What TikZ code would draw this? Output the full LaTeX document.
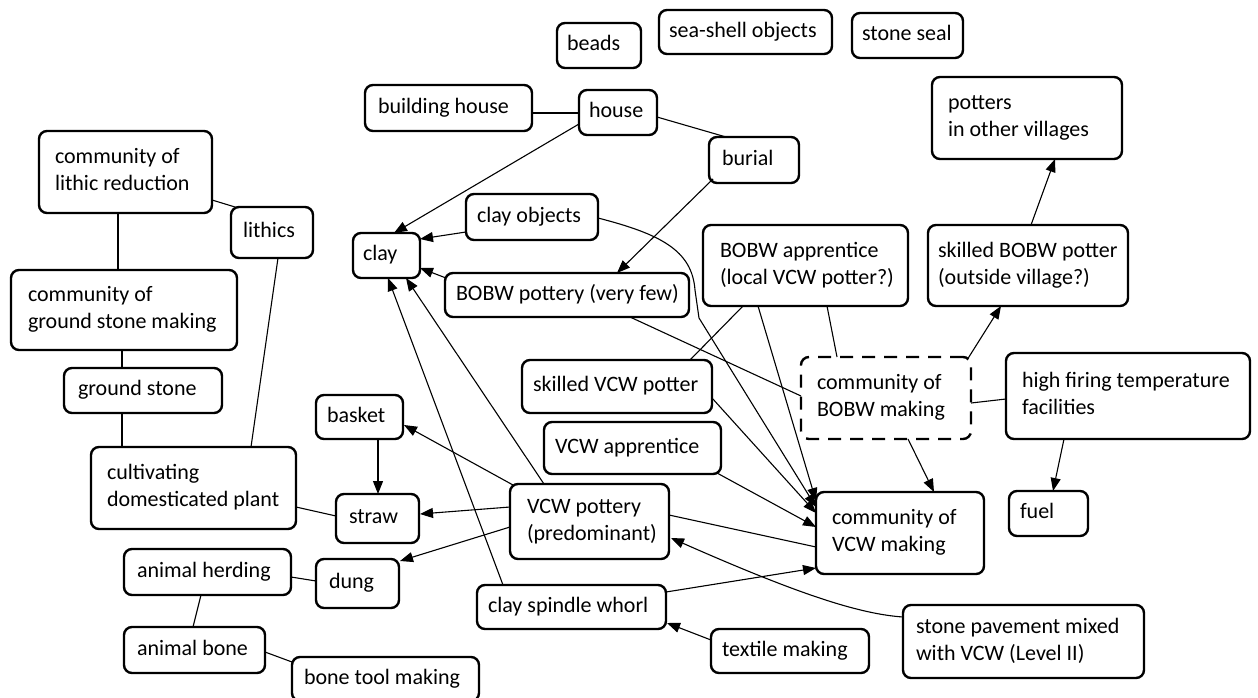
\documentclass[tikz,border=0pt]{standalone}
\usepackage{fontspec}
\setmainfont{Carlito}
\usetikzlibrary{arrows.meta,calc}

\tikzset{
  box/.style={draw, line width=2.4pt, rounded corners=8pt, inner ysep=0pt,
    outer sep=0pt, font=\fontsize{22}{27}\selectfont},
  dashbox/.style={dash pattern=on 13pt off 9pt},
  conn/.style={line width=1.1pt},
  arr/.style={conn, -{Triangle[length=13pt,width=10pt]}}
}

% box by its corners (left, top, right, bottom), left padding, left-aligned text
\newcommand{\bx}[8][]{%
  \pgfmathsetmacro\bxw{#5-#3}%
  \pgfmathsetmacro\bxh{#6-#4}%
  \pgfmathsetmacro\bxt{#5-#3-2*#7}%
  \node[box,#1,minimum width=\bxw pt,minimum height=\bxh pt,inner xsep=#7pt]
    (#2) at ({(#3+#5)/2},{(#4+#6)/2})
    {\makebox[\bxt pt][l]{\begin{tabular}{@{}l@{}}#8\end{tabular}}};}

\begin{document}
\begin{tikzpicture}[x=1pt,y=-1pt]
\useasboundingbox (0,0) rectangle (1258,698);
\clip (0,0) rectangle (1258,698);

% top row
\bx{beads}{557}{23}{641}{68}{10}{beads}
\bx{seashell}{659}{10}{832}{54}{10}{sea-shell objects}
\bx{seal}{852}{13}{963}{58}{10}{stone seal}
\bx{bhouse}{365}{85}{532}{131}{13}{building house}
\bx{house}{579}{90}{657}{135}{10}{house}
\bx{burial}{709}{137}{799}{183}{13}{burial}
\bx{potters}{932}{77}{1122}{159}{16}{potters\\in other villages}

% left column
\bx{lithred}{39}{131}{212}{213}{16}{community of\\lithic reduction}
\bx{lithics}{231}{207}{313}{258}{12}{lithics}
\bx{gsmaking}{11}{270}{237}{350}{17}{community of\\ground stone making}
\bx{gstone}{64}{368}{222}{413}{14}{ground stone}
\bx{cult}{91}{447}{296}{529}{16}{cultivating\\domesticated plant}
\bx{herding}{124}{549}{291}{595}{13}{animal herding}
\bx{bone}{124}{627}{265}{673}{13}{animal bone}
\bx{bonetool}{292}{657}{479}{701}{12}{bone tool making}

% centre
\bx{clay}{353}{233}{420}{278}{10}{clay}
\bx{clayobj}{466}{194}{598}{240}{11}{clay objects}
\bx{bobwpot}{445}{273}{689}{317}{11}{BOBW pottery (very few)}
\bx{basket}{316}{395}{403}{439}{11}{basket}
\bx{straw}{336}{494}{419}{543}{13}{straw}
\bx{dung}{316}{559}{399}{608}{13}{dung}
\bx{skvcw}{522}{360}{712}{413}{11}{skilled VCW potter}
\bx{vcwapp}{544}{422}{721}{474}{11}{VCW apprentice}
\bx{vcwpot}{510}{484}{669}{559}{17}{VCW pottery\\(predominant)}
\bx{whorl}{477}{585}{666}{629}{11}{clay spindle whorl}
\bx{textile}{711}{629}{869}{673}{11}{textile making}

% right side
\bx{bobwapp}{703}{225}{908}{306}{17}{BOBW apprentice\\(local VCW potter?)}
\bx{skbobw}{928}{225}{1128}{306}{10}{skilled BOBW potter\\(outside village?)}
\bx[dashbox]{bobwcomm}{801}{357}{971}{439}{16}{community of\\BOBW making}
\bx{highfire}{1006}{353}{1250}{439}{16}{high firing temperature\\facilities}
\bx{vcwcomm}{816}{492}{984}{574}{16}{community of\\VCW making}
\bx{fuel}{1009}{491}{1088}{536}{11}{fuel}
\bx{pavement}{903}{605}{1144}{678}{13}{stone pavement mixed\\with VCW (Level II)}

% plain links
\draw[conn] ($(bhouse.north east)+(0,28)$) -- ($(house.north west)+(0,23)$);
\draw[conn] ($(house.north east)+(0,27)$) -- ($(burial.north west)+(17,0)$);
\draw[conn] ($(lithred.south west)+(79,0)$) -- ($(gsmaking.north west)+(107,0)$);
\draw[conn] ($(lithred.north east)+(0,69)$) -- ($(lithics.north west)+(4,0)$);
\draw[conn] ($(lithics.south west)+(47,0)$) -- ($(cult.north west)+(160,0)$);
\draw[conn] ($(gsmaking.south west)+(111,0)$) -- ($(gstone.north west)+(58,0)$);
\draw[conn] ($(gstone.south west)+(58,0)$) -- ($(cult.north west)+(31,0)$);
\draw[conn] ($(cult.north east)+(0,60)$) -- ($(straw.north west)+(0,22)$);
\draw[conn] ($(herding.north east)+(0,28)$) -- ($(dung.north west)+(0,22)$);
\draw[conn] ($(herding.south west)+(77,0)$) -- ($(bone.north west)+(69,0)$);
\draw[conn] ($(bone.north east)+(0,25)$) -- ($(bonetool.north west)+(0,5)$);
\draw[conn] ($(bobwpot.south west)+(185,0)$) -- ($(bobwcomm.north west)+(0,39)$);
\draw[conn] ($(bobwapp.south west)+(40,0)$) -- ($(skvcw.north west)+(168,0)$);
\draw[conn] ($(bobwapp.south west)+(124,0)$) -- ($(bobwcomm.north west)+(36,0)$);
\draw[conn] ($(highfire.north west)+(0,46)$) -- ($(bobwcomm.north east)+(0,46)$);
\draw[conn] ($(vcwpot.north east)+(0,31)$) -- ($(vcwcomm.north west)+(0,55)$);

% arrows into clay
\draw[arr] ($(house.north west)+(0,34)$) -- ($(clay.north west)+(41,0)$);
\draw[arr] ($(clayobj.north west)+(0,38)$) -- ($(clay.north east)+(0,6)$);
\draw[arr] ($(bobwpot.north west)+(1,5)$) -- ($(clay.north east)+(0,35)$);
\draw[arr] ($(vcwpot.north west)+(34,0)$) -- ($(clay.south west)+(53,0)$);
\draw[arr] ($(whorl.north west)+(26,0)$) -- ($(clay.south west)+(35,0)$);

% other arrows
\draw[arr] ($(burial.south west)+(4,-4)$) -- ($(bobwpot.north west)+(172,0)$);
\draw[arr] ($(clayobj.north east)+(0,24)$) .. controls (660,234) and (692,250) .. (695,290)
  -- (699,318) -- ($(vcwcomm.north west)+(0,15)$);
\draw[arr] ($(bobwapp.south west)+(55,0)$) -- ($(vcwcomm.north west)+(0,9)$);
\draw[arr] ($(skvcw.north east)+(0,38)$) -- ($(vcwcomm.north west)+(0,21)$);
\draw[arr] ($(vcwapp.south east)+(-4,-1)$) -- ($(vcwcomm.north west)+(0,35)$);
\draw[arr] ($(whorl.north east)+(0,7)$) -- ($(vcwcomm.south west)+(0,-6)$);
\draw[arr] ($(bobwcomm.south west)+(107,0)$) -- ($(vcwcomm.north west)+(118,0)$);
\draw[arr] ($(bobwcomm.north east)+(-4,3)$) -- ($(skbobw.south west)+(73,0)$);
\draw[arr] ($(skbobw.north west)+(103,0)$) -- ($(potters.south west)+(123,0)$);
\draw[arr] ($(highfire.south west)+(58,0)$) -- ($(fuel.north west)+(44,0)$);
\draw[arr] ($(pavement.north west)+(0,12)$) .. controls (860,614) and (800,595)
  .. ($(vcwpot.north east)+(2,54)$);
\draw[arr] ($(textile.north west)+(0,11)$) -- ($(whorl.south east)+(1,-6)$);
\draw[arr] ($(vcwpot.north west)+(3,1)$) -- ($(basket.north east)+(1,30)$);
\draw[arr] ($(vcwpot.north west)+(0,23)$) -- ($(straw.north east)+(1,20)$);
\draw[arr] ($(vcwpot.north west)+(0,43)$) -- ($(dung.north east)+(1,2)$);
\draw[arr] ($(basket.south west)+(62,0)$) -- ($(straw.north west)+(42,0)$);
\end{tikzpicture}
\end{document}
